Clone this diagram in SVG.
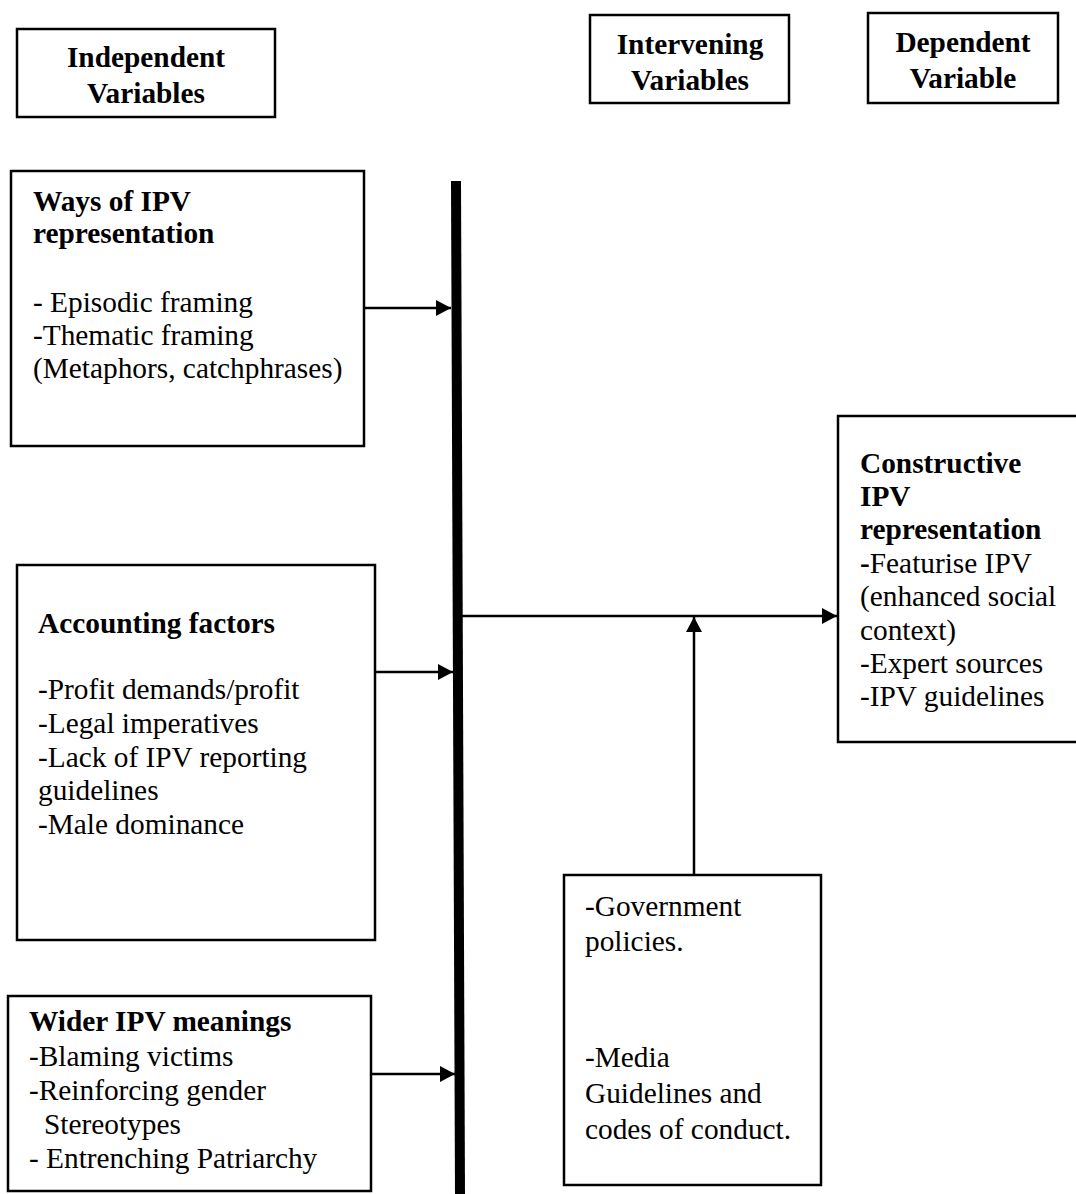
<svg xmlns="http://www.w3.org/2000/svg" width="1076" height="1194" viewBox="0 0 1076 1194">
<style>
.box{fill:#fff;stroke:#000;stroke-width:2.5}
text{font-family:"Liberation Serif","Times New Roman",serif;font-size:29.33px;fill:#000}
.b{font-weight:bold}
.c{text-anchor:middle}
.con{stroke:#000;stroke-width:2.5;fill:none}
</style>
<defs>
<marker id="ah" markerUnits="userSpaceOnUse" markerWidth="16" markerHeight="18" refX="15" refY="8" orient="auto">
<path d="M0,0 L15,8 L0,16 Z" fill="#000"/>
</marker>
</defs>
<rect width="1076" height="1194" fill="#fff"/>

<g id="hdr-independent">
<rect class="box" x="17" y="29" width="258" height="88"/>
<text class="b c" x="146" y="67">Independent</text>
<text class="b c" x="146" y="103">Variables</text>
</g>
<g id="hdr-intervening">
<rect class="box" x="590" y="15" width="199" height="88"/>
<text class="b c" x="690" y="54">Intervening</text>
<text class="b c" x="690" y="90">Variables</text>
</g>
<g id="hdr-dependent">
<rect class="box" x="868" y="13" width="190" height="90"/>
<text class="b c" x="963" y="52">Dependent</text>
<text class="b c" x="963" y="88">Variable</text>
</g>

<g id="ways">
<rect class="box" x="11" y="171" width="353" height="275"/>
<text class="b" x="33" y="211">Ways of IPV</text>
<text class="b" x="33" y="243">representation</text>
<text x="33" y="312">- Episodic framing</text>
<text x="33" y="345">-Thematic framing</text>
<text x="33" y="378">(Metaphors, catchphrases)</text>
</g>

<g id="accounting">
<rect class="box" x="17" y="565" width="358" height="375"/>
<text class="b" x="38" y="633">Accounting factors</text>
<text x="38" y="699">-Profit demands/profit</text>
<text x="38" y="733">-Legal imperatives</text>
<text x="38" y="767">-Lack of IPV reporting</text>
<text x="38" y="800">guidelines</text>
<text x="38" y="834">-Male dominance</text>
</g>

<g id="wider">
<rect class="box" x="8" y="996" width="363" height="195"/>
<text class="b" x="29" y="1031">Wider IPV meanings</text>
<text x="29" y="1066">-Blaming victims</text>
<text x="29" y="1100">-Reinforcing gender</text>
<text x="44" y="1134">Stereotypes</text>
<text x="29" y="1168">- Entrenching Patriarchy</text>
</g>

<g id="intervening">
<rect class="box" x="564" y="875" width="257" height="310"/>
<text x="585" y="916">-Government</text>
<text x="585" y="951">policies.</text>
<text x="585" y="1067">-Media</text>
<text x="585" y="1103">Guidelines and</text>
<text x="585" y="1139">codes of conduct.</text>
</g>

<g id="constructive">
<rect class="box" x="838" y="416" width="250" height="326"/>
<text class="b" x="860" y="473">Constructive</text>
<text class="b" x="860" y="506">IPV</text>
<text class="b" x="860" y="539">representation</text>
<text x="860" y="573"><tspan class="b">-</tspan>Featurise IPV</text>
<text x="860" y="606">(enhanced social</text>
<text x="860" y="640">context)</text>
<text x="860" y="673">-Expert sources</text>
<text x="860" y="706">-IPV guidelines</text>
</g>

<g id="connectors">
<line x1="456" y1="181" x2="460" y2="1194" stroke="#000" stroke-width="10"/>
<line class="con" x1="364" y1="308" x2="451" y2="308" marker-end="url(#ah)"/>
<line class="con" x1="375" y1="672" x2="453" y2="672" marker-end="url(#ah)"/>
<line class="con" x1="371" y1="1074" x2="455" y2="1074" marker-end="url(#ah)"/>
<line class="con" x1="461" y1="616" x2="837" y2="616" marker-end="url(#ah)"/>
<line class="con" x1="694" y1="875" x2="694" y2="617" marker-end="url(#ah)"/>
</g>
</svg>
